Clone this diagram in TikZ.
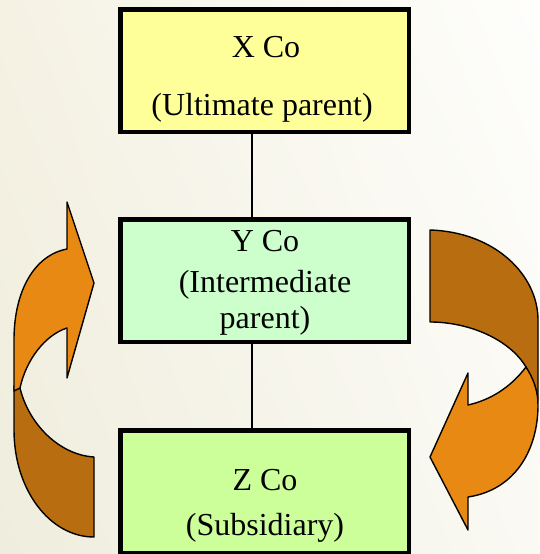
\documentclass[tikz,border=0pt]{standalone}
\usepackage{fontspec}
\usetikzlibrary{shadings}
\setmainfont{Liberation Serif}
\newfontfamily\capfont{Liberation Serif}
\definecolor{bgul}{RGB}{245,242,228}
\definecolor{bgll}{RGB}{239,237,221}
\definecolor{bgur}{RGB}{254,254,252}
\definecolor{bglr}{RGB}{250,249,243}
\definecolor{xfill}{RGB}{255,255,153}
\definecolor{yfill}{RGB}{204,255,204}
\definecolor{zfill}{RGB}{204,255,153}
\definecolor{arrfront}{RGB}{232,137,20}
\definecolor{arrback}{RGB}{184,110,16}
\tikzset{
  company/.style={draw=black, line width=3pt, inner sep=0pt,
    minimum width=287pt, minimum height=121pt},
  caption/.style={anchor=base, inner sep=0pt, font=\capfont\fontsize{32}{38}\selectfont},
  link/.style={draw=black, line width=2pt},
  frontband/.style={fill=arrfront, draw=black, line width=1.4pt, line join=round},
  backband/.style={fill=arrback, draw=black, line width=1.4pt, line join=round}
}
\begin{document}
\begin{tikzpicture}[x=1pt, y=-1pt]
  % page and background wash
  \useasboundingbox (0,0) rectangle (539,554);
  \shade[shading=bilinear interpolation,
    upper left=bgul, lower left=bgll, upper right=bgur, lower right=bglr]
    (0,0) rectangle (539,554);

  % left circular arrow: back band first, then the front band with its head
  \path[backband] (14,386) -- (14,430) .. controls (14,490) and (50,537) .. (94,537)
    -- (94,457) .. controls (60,455) and (29,425) .. (20,388) -- cycle;
  \path[frontband] (14,391) -- (14,340) .. controls (14,290) and (35,255) .. (67,249)
    -- (67,202) -- (94,283) -- (67,378) -- (67,328)
    .. controls (45,335) and (26,360) .. (20,388) -- cycle;

  % right circular arrow
  \path[backband] (430,230) .. controls (495,232) and (538,275) .. (538,320)
    -- (538,400) -- (526,367) .. controls (510,340) and (470,322) .. (430,322) -- cycle;
  \path[frontband] (526,367) .. controls (510,388) and (490,400) .. (468,405)
    -- (468,373) -- (430,457) -- (468,530) -- (468,497)
    .. controls (515,490) and (538,450) .. (538,405)
    .. controls (538,390) and (533,378) .. cycle;

  % company boxes
  \node[company, fill=xfill] (xco) at (264.5,70.5) {};
  \node[company, fill=yfill] (yco) at (264.5,280.5) {};
  \node[company, fill=zfill] (zco) at (264.5,491.5) {};

  % ownership links
  \draw[link] ([xshift=-12.5pt]xco.south) -- ([xshift=-12.5pt]yco.north);
  \draw[link] ([xshift=-12.5pt]yco.south) -- ([xshift=-12.5pt]zco.north);

  % redraw box outlines over the link ends
  \draw[line width=3pt] (xco.north west) rectangle (xco.south east);
  \draw[line width=3pt] (yco.north west) rectangle (yco.south east);
  \draw[line width=3pt] (zco.north west) rectangle (zco.south east);

  % captions
  \node[caption] (xname) at (266,57) {X Co};
  \node[caption] (xrole) at (262,115) {(Ultimate parent)};
  \node[caption] (yname) at (265,251) {Y Co};
  \node[caption] (yrole) at (265,292) {(Intermediate};
  \node[caption] (yrole2) at (265,328) {parent)};
  \node[caption] (zname) at (265,490) {Z Co};
  \node[caption] (zrole) at (265,535) {(Subsidiary)};
\end{tikzpicture}
\end{document}
